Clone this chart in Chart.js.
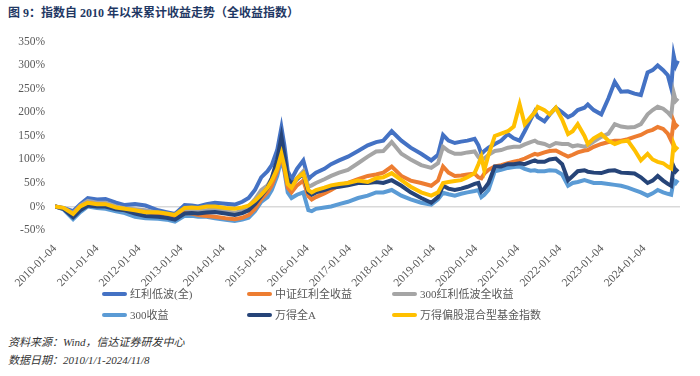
<!DOCTYPE html>
<html>
<head>
<meta charset="utf-8">
<script src="https://cdn.jsdelivr.net/npm/chart.js@4.4.1/dist/chart.umd.min.js"></script>
<style>
    html, body { margin: 0; padding: 0; background: #fff; }
    body { width: 700px; height: 376px; position: relative; overflow: hidden;
           font-family: "Liberation Serif", "Noto Sans CJK SC", serif; }
    #title { position: absolute; left: 8px; top: 3px; font-size: 12px; font-weight: bold; color: #1F3864; white-space: nowrap; }
    #wrap { position: absolute; left: 0; top: 25px; width: 700px; height: 262px; }
    #legend { position: absolute; left: 0; top: 285px; width: 700px; height: 40px; }
    .item { position: absolute; font-size: 11px; color: #595959; white-space: nowrap; line-height: 14px; }
    .item i { display: inline-block; width: 25px; height: 4px; border-radius: 2px; vertical-align: middle; margin-right: 3px; margin-top: -2px; }
    .note { position: absolute; left: 8px; font-size: 11px; font-style: italic; color: #333; white-space: nowrap; }
</style>
</head>
<body>
<div id="title">图 9：指数自 2010 年以来累计收益走势（全收益指数）</div>
<div id="wrap"><canvas id="returns-chart" width="700" height="262"></canvas></div>
<div id="legend"></div>
<div class="note" style="top:333px">资料来源：Wind，信达证券研发中心</div>
<div class="note" style="top:351px">数据日期：2010/1/1-2024/11/8</div>
<script>
// years since 2010-01-04 for every sample
var yearOffsets = [0, 0.2, 0.43, 0.6, 0.78, 1.0, 1.2, 1.45, 1.66, 1.9, 2.15, 2.45, 2.65, 2.85, 3.08, 3.25, 3.4, 3.6, 3.8, 4.05,
    4.27, 4.45, 4.6, 4.75, 4.9, 5.05, 5.15, 5.28, 5.38, 5.45, 5.53, 5.62, 5.75, 5.9, 6.02, 6.1, 6.2, 6.4, 6.56, 6.75,
    6.96, 7.2, 7.43, 7.63, 7.8, 8.0, 8.23, 8.45, 8.7, 8.94, 9.1, 9.22, 9.35, 9.5, 9.65, 9.8, 9.97, 10.06, 10.13, 10.2,
    10.3, 10.45, 10.6, 10.76, 10.9, 11.04, 11.16, 11.3, 11.4, 11.47, 11.63, 11.75, 11.9, 12.05, 12.19, 12.3, 12.42, 12.58, 12.66, 12.8,
    12.98, 13.15, 13.3, 13.45, 13.61, 13.77, 13.92, 14.08, 14.2, 14.32, 14.45, 14.56, 14.64, 14.7, 14.75, 14.8];

// cumulative return, %
var lowVolDividend = [0, -3, -10, 5, 18, 15, 16, 8, 3, 5, 2, -8, -12, -16, 3, 2, 0, 5, 8, 6,
    4, 10, 18, 35, 62, 75, 88, 120, 168, 130, 75, 58, 80, 98, 58, 65, 72, 80, 90, 98,
    106, 118, 130, 137, 140, 160, 140, 125, 112, 98, 110, 152, 140, 135, 138, 140, 144, 130, 112, 118,
    125, 133, 140, 154, 145, 140, 160, 185, 202, 190, 181, 195, 210, 200, 190, 195, 205, 210, 217, 205,
    196, 230, 265, 244, 245, 240, 237, 285, 290, 300, 290, 279, 252, 321, 300, 310];
var csiDividend = [0, -4, -16, 0, 8, 5, 4, -4, -8, -10, -12, -16, -20, -25, -14, -15, -18, -20, -22, -25,
    -27, -24, -18, -5, 15, 30, 45, 75, 110, 80, 40, 30, 45, 55, 22, 15, 20, 28, 35, 45,
    50, 58, 65, 68, 72, 85, 65, 55, 50, 44, 55, 85, 72, 65, 66, 68, 70, 62, 60, 70,
    78, 85, 88, 92, 95, 98, 102, 108, 112, 110, 115, 118, 119, 112, 106, 110, 115, 119, 120, 127,
    133, 137, 140, 140, 143, 148, 152, 160, 163, 169, 165, 155, 140, 181, 170, 175];
var csi300LowVol = [0, -4, -14, 2, 12, 8, 8, 0, -4, -6, -8, -14, -18, -22, -8, -8, -10, -8, -6, -10,
    -14, -8, 0, 15, 35, 45, 60, 95, 135, 100, 55, 42, 60, 75, 42, 45, 50, 58, 65, 72,
    78, 92, 106, 117, 118, 137, 112, 100, 88, 82, 92, 127, 118, 112, 112, 115, 117, 105, 98, 102,
    110, 118, 120, 125, 127, 127, 132, 137, 140, 136, 133, 128, 135, 133, 133, 128, 130, 127, 130, 138,
    148, 155, 175, 170, 168, 169, 175, 196, 205, 212, 208, 200, 192, 242, 225, 230];
var csi300 = [0, -6, -27, -12, 0, -3, -5, -10, -14, -22, -25, -26, -28, -32, -20, -20, -22, -22, -25, -28,
    -31, -28, -24, -10, 10, 20, 35, 65, 100, 75, 30, 18, 25, 30, -8, -10, -5, -2, 0, 5,
    10, 18, 23, 30, 30, 35, 23, 15, 8, 4, 15, 29, 26, 23, 27, 30, 33, 35, 20, 25,
    35, 75, 78, 82, 84, 85, 80, 76, 77, 75, 75, 77, 76, 68, 44, 50, 52, 56, 54, 50,
    50, 48, 46, 44, 40, 35, 30, 23, 28, 35, 30, 27, 25, 56, 50, 56];
var windAllA = [0, -5, -23, -8, 2, 0, 0, -6, -8, -15, -20, -22, -24, -28, -15, -14, -15, -13, -12, -15,
    -18, -14, -8, 5, 22, 40, 60, 100, 148, 110, 60, 48, 58, 70, 30, 25, 30, 35, 40, 42,
    45, 50, 50, 52, 50, 56, 44, 30, 18, 8, 20, 44, 38, 35, 38, 42, 48, 50, 32, 38,
    50, 85, 85, 90, 90, 92, 90, 95, 98, 95, 95, 100, 102, 90, 56, 65, 75, 77, 74, 72,
    71, 76, 77, 72, 71, 70, 62, 50, 55, 65, 55, 48, 44, 85, 75, 80];
var equityFunds = [0, -3, -16, 0, 8, 5, 5, -2, -5, -8, -12, -12, -15, -18, -3, -2, -3, 0, 0, -3,
    -5, -2, 2, 12, 25, 40, 55, 80, 112, 85, 48, 40, 60, 71, 35, 30, 35, 40, 45, 48,
    50, 55, 52, 60, 62, 71, 56, 42, 30, 23, 30, 50, 52, 54, 56, 62, 71, 90, 106, 77,
    110, 150, 155, 160, 170, 217, 175, 190, 200, 212, 205, 196, 210, 185, 154, 160, 175, 150, 133, 145,
    154, 140, 133, 138, 140, 120, 98, 112, 100, 95, 92, 85, 81, 133, 122, 127];

var seriesNames = ['红利低波(全)', '中证红利全收益', '300红利低波全收益', '300收益', '万得全A', '万得偏股混合型基金指数'];
var seriesValues = [lowVolDividend, csiDividend, csi300LowVol, csi300, windAllA, equityFunds];
var seriesColors = ['#4472C4', '#ED7D31', '#A5A5A5', '#5B9BD5', '#264478', '#FFC000'];
var drawOrder = [4, 2, 3, 5, 1, 0]; // lower = drawn on top

var datasets = seriesNames.map(function (name, i) {
    return {
        label: name,
        data: yearOffsets.map(function (t, k) { return {x: t, y: seriesValues[i][k]}; }),
        borderColor: seriesColors[i],
        backgroundColor: seriesColors[i],
        borderWidth: 4,
        pointRadius: 0,
        tension: 0,
        order: drawOrder[i]
    };
});

var tickFamily = '"Liberation Serif", "Noto Sans CJK SC", serif';

new Chart(document.getElementById('returns-chart'), {
    type: 'line',
    data: {datasets: datasets},
    options: {
        responsive: false,
        animation: false,
        layout: {padding: {top: 10, right: 20, left: 0, bottom: 0}},
        plugins: {legend: {display: false}, tooltip: {enabled: false}},
        scales: {
            x: {
                type: 'linear',
                min: 0,
                max: 14.85,
                grid: {display: false, drawTicks: false},
                border: {display: false},
                ticks: {
                    stepSize: 1,
                    includeBounds: false,
                    autoSkip: false,
                    minRotation: 45,
                    maxRotation: 45,
                    padding: 12,
                    color: '#595959',
                    font: {family: tickFamily, size: 11.5},
                    callback: function (v) { return (2010 + v) + '-01-04'; }
                },
                afterFit: function (scale) { scale.height = 57; }
            },
            y: {
                min: -50,
                max: 350,
                grid: {
                    drawTicks: false,
                    lineWidth: 1.5,
                    color: function (ctx) { return ctx.tick && ctx.tick.value === 0 ? '#D9D9D9' : 'rgba(0,0,0,0)'; }
                },
                border: {display: false},
                ticks: {
                    stepSize: 50,
                    padding: 10,
                    color: '#595959',
                    font: {family: tickFamily, size: 11.5},
                    callback: function (v) { return v + '%'; }
                },
                afterFit: function (scale) { scale.width = 55; }
            }
        }
    }
});

// legend, 3 columns x 2 rows
var legendCols = [102, 247, 392];
var legendRows = [2, 23];
var legend = document.getElementById('legend');
seriesNames.forEach(function (name, i) {
    var el = document.createElement('div');
    el.className = 'item';
    el.style.left = legendCols[i % 3] + 'px';
    el.style.top = legendRows[Math.floor(i / 3)] + 'px';
    el.innerHTML = '<i style="background:' + seriesColors[i] + '"></i>' + name;
    legend.appendChild(el);
});
</script>
</body>
</html>
